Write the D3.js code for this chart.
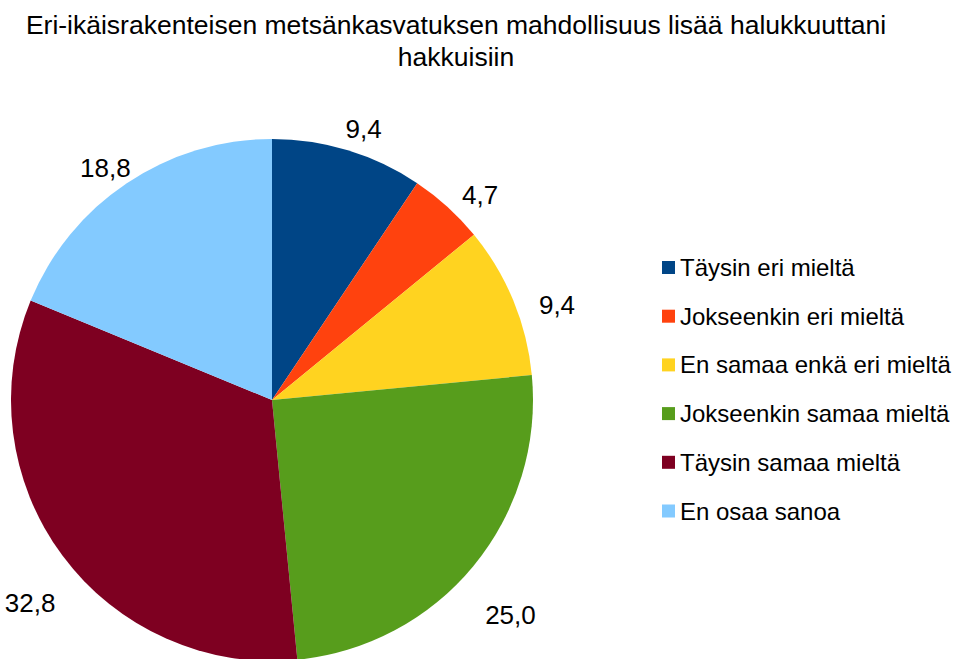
<!DOCTYPE html>
<html>
<head>
<meta charset="utf-8">
<script src="https://cdn.jsdelivr.net/npm/d3@7"></script>
<style>
  html, body { margin: 0; padding: 0; background: #ffffff; }
  svg { display: block; font-family: "Liberation Sans", Arial, sans-serif; }
</style>
</head>
<body>
<svg id="chart" width="973" height="659"></svg>
<script>
const titleLines = ["Eri-ikäisrakenteisen metsänkasvatuksen mahdollisuus lisää halukkuuttani", "hakkuisiin"];
const categories = ["Täysin eri mieltä", "Jokseenkin eri mieltä", "En samaa enkä eri mieltä", "Jokseenkin samaa mieltä", "Täysin samaa mieltä", "En osaa sanoa"];
const values = [9.4, 4.7, 9.4, 25.0, 32.8, 18.8];
const labels = ["9,4", "4,7", "9,4", "25,0", "32,8", "18,8"];
const colors = ["#004586", "#ff420e", "#ffd320", "#579d1c", "#7e0021", "#83caff"];

const W = 973, H = 659;
const cx = 272, cy = 400, R = 261;
const svg = d3.select("#chart");

// Title
svg.append("text")
  .attr("x", 456).attr("y", 34)
  .attr("text-anchor", "middle")
  .attr("font-size", 26.5)
  .attr("fill", "#000")
  .selectAll("tspan").data(titleLines).join("tspan")
  .attr("x", 456)
  .attr("dy", (d, i) => i === 0 ? 0 : 32)
  .text(d => d);

const data = categories.map((c, i) => ({ cat: c, value: values[i], label: labels[i], color: colors[i] }));
const pie = d3.pie().value(d => d.value).sort(null);
const arcs = pie(data);
const arc = d3.arc().innerRadius(0).outerRadius(R);
const labelR = 305;
const labelArc = d3.arc().innerRadius(labelR).outerRadius(labelR);

const g = svg.append("g").attr("transform", `translate(${cx},${cy})`);
g.selectAll("path.slice").data(arcs).join("path")
  .attr("class", "slice")
  .attr("d", arc)
  .attr("fill", d => d.data.color);

g.selectAll("text.lbl").data(arcs).join("text")
  .attr("class", "lbl")
  .attr("x", d => labelArc.centroid(d)[0] + 3)
  .attr("y", d => labelArc.centroid(d)[1] + 21)
  .attr("text-anchor", "middle")
  .attr("dominant-baseline", "central")
  .attr("font-size", 26)
  .attr("fill", "#000")
  .text(d => d.data.label);

// Legend
const legX = 662, legY0 = 267.5, legStep = 48.7, sq = 13;
const leg = svg.append("g");
const items = leg.selectAll("g").data(data).join("g")
  .attr("transform", (d, i) => `translate(${legX},${legY0 + i * legStep})`);
items.append("rect")
  .attr("x", 0).attr("y", -sq / 2)
  .attr("width", sq).attr("height", sq)
  .attr("fill", d => d.color);
items.append("text")
  .attr("x", 18).attr("y", 0)
  .attr("dominant-baseline", "central")
  .attr("font-size", 24)
  .attr("fill", "#000")
  .text(d => d.cat);
</script>
</body>
</html>
